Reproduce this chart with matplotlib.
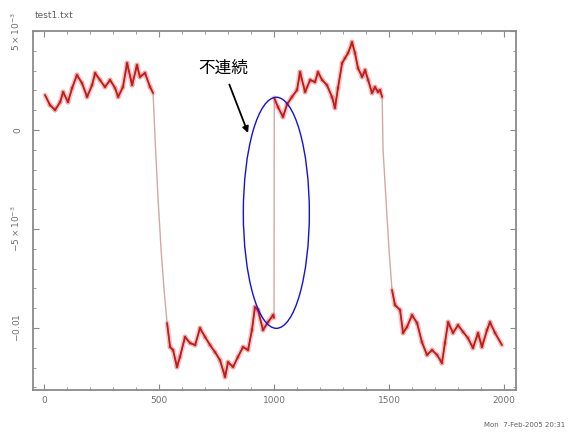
import numpy as np
import matplotlib
matplotlib.use('Agg')
import matplotlib.pyplot as plt
from matplotlib.collections import LineCollection
from matplotlib.patches import Ellipse
from matplotlib.ticker import MultipleLocator, FixedLocator, FixedFormatter

# sample index and signal (signal in units of 1e-3)
t = np.array([
    4, 26, 48, 70, 83, 104, 122, 143, 165, 187, 209, 222, 243, 265, 287,
    309, 322, 343, 361, 383, 404, 417, 439, 461, 474, 478, 483, 496, 509,
    522, 535, 548, 561, 578, 591, 613, 635, 657, 678, 700, 722, 743, 765,
    787, 800, 822, 843, 865, 887, 904, 917, 930, 952, 974, 996, 1000,
    1001, 1017, 1039, 1057, 1078, 1100, 1113, 1135, 1157, 1178, 1191, 1209,
    1230, 1252, 1265, 1278, 1296, 1309, 1322, 1339, 1352, 1365, 1383, 1396,
    1409, 1426, 1439, 1452, 1461, 1470, 1474, 1487, 1500, 1513, 1526, 1548,
    1561, 1578, 1600, 1622, 1643, 1665, 1687, 1709, 1730, 1743, 1757, 1778,
    1800, 1822, 1843, 1865, 1887, 1904, 1926, 1939, 1961, 1991,
])
signal = np.array([
    1.77, 1.26, 1.01, 1.41, 1.92, 1.41, 2.12, 2.78, 2.37, 1.67, 2.27, 2.88,
    2.53, 2.17, 2.53, 2.12, 1.67, 2.17, 3.38, 2.27, 3.28, 2.68, 2.88, 2.17,
    1.87, 0.86, -0.51, -3.54, -6.06, -8.08, -9.75, -10.96, -11.11, -11.97,
    -11.46, -10.45, -10.76, -10.86, -10.00, -10.45, -10.86, -11.21, -11.62,
    -12.47, -11.72, -11.97, -11.46, -10.96, -11.11, -10.10, -8.94, -9.09,
    -10.10, -9.70, -9.34, -9.49,
    1.62, 1.16, 0.66, 1.31, 1.67, 2.02, 2.93, 1.92, 2.53, 2.42, 2.93, 2.53,
    2.27, 1.67, 1.11, 2.12, 3.38, 3.64, 3.89, 4.44, 3.89, 3.13, 2.68, 3.03,
    2.53, 1.87, 2.17, 1.92, 2.02, 1.67, -1.01, -3.54, -6.06, -8.08, -8.84,
    -9.09, -10.25, -9.95, -9.34, -9.75, -10.71, -11.36, -11.11, -11.36,
    -11.77, -10.76, -9.70, -10.25, -9.85, -10.20, -10.50, -11.01, -10.25,
    -10.96, -10.10, -9.70, -10.25, -10.86,
]) * 1e-3

x_major = [0, 500, 1000, 1500, 2000]
y_major = [5e-3, 0, -5e-3, -0.01]
y_labels = [r'$5\times10^{-3}$', '0', r'$-5\times10^{-3}$', r'$-0.01$']

gray = '#8a8a8a'
fig = plt.figure(figsize=(5.73, 4.40), dpi=100)
ax = fig.add_axes([0.0576, 0.1136, 0.8421, 0.8159])

# thin line for the whole trace, heavier red band where it is noisy
ax.plot(t, signal, color='#d2a8a8', lw=1.0, zorder=2)
pts = np.column_stack([t, signal])
segs = np.stack([pts[:-1], pts[1:]], axis=1)
slope = np.abs(np.diff(signal)) / np.diff(t)
flat = segs[slope < 0.12e-3]
ax.add_collection(LineCollection(flat, colors='#e04a4a', linewidths=3.6,
                                 alpha=0.3, capstyle='round', zorder=3))
ax.add_collection(LineCollection(flat, colors='#c01c1c', linewidths=1.3,
                                 capstyle='round', zorder=4))

ax.set_xlim(-48, 2050)
ax.set_ylim(-13.13e-3, 5.0e-3)

ax.xaxis.set_major_locator(FixedLocator(x_major))
ax.xaxis.set_minor_locator(MultipleLocator(100))
ax.yaxis.set_major_locator(FixedLocator(y_major))
ax.yaxis.set_major_formatter(FixedFormatter(y_labels))
ax.yaxis.set_minor_locator(MultipleLocator(1e-3))
ax.tick_params(which='both', direction='in', top=True, right=True,
               color=gray, labelcolor='#707070', labelsize=6.5)
ax.tick_params(which='major', length=4, width=0.8)
ax.tick_params(which='minor', length=2.2, width=0.6)
ax.tick_params(axis='x', pad=4)
ax.tick_params(axis='y', pad=8)
for lab in ax.get_yticklabels():
    lab.set_rotation(90)
    lab.set_va('center')
for sp in ax.spines.values():
    sp.set_color(gray)
    sp.set_linewidth(1.3)

# mark the discontinuity at t = 1000
ax.add_patch(Ellipse((1010, -4.18e-3), 287, 11.67e-3, fill=False,
                     edgecolor='#1010e0', lw=1.0, zorder=5))
ax.annotate('不連続', xy=(887, -0.15e-3), xytext=(778, 3.13e-3),
            ha='center', va='center', fontsize=12,
            family=['Noto Sans CJK JP', 'DejaVu Sans'],
            arrowprops=dict(arrowstyle='-|>', color='black', lw=1.3,
                            mutation_scale=9, shrinkA=4, shrinkB=0))

fig.text(35 / 573, 1 - 15 / 440, 'test1.txt', fontsize=6.5, color='#606060',
         ha='left', va='center')
fig.text(484 / 573, 1 - 425 / 440, 'Mon  7-Feb-2005 20:31', fontsize=5,
         color='#606060', ha='left', va='center')

fig.savefig('out.png', dpi=100)
